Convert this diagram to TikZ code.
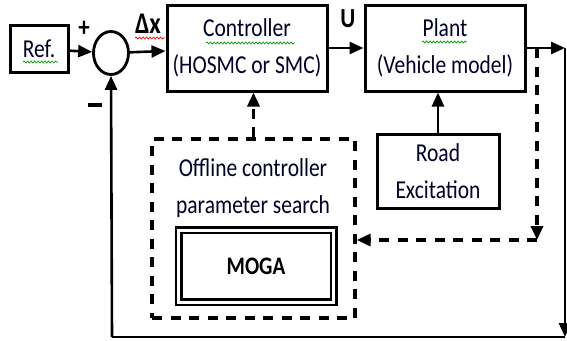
\documentclass[tikz,border=0pt]{standalone}
\usepackage{fontspec}
\setmainfont{Carlito}
\usetikzlibrary{arrows.meta,decorations.pathmorphing,shapes.geometric}
% text in this figure is set slightly taller than the font's natural shape
\newcommand\stretchtxt[1]{\scalebox{1}[1.2]{#1}}

\begin{document}
\begin{tikzpicture}[x=1pt,y=-1pt,
  txt/.style={font=\fontsize{21.5}{37}\selectfont, text=black!85!blue},
  blk/.style={draw, line width=3pt, align=center, inner sep=0pt, txt},
  tip/.style={-{Triangle[length=14pt,width=12pt]}},
  sig/.style={line width=2.6pt, tip},
  dashes/.style={line width=3.3pt, dash pattern=on 10pt off 8.5pt},
  dsig/.style={sig, dashes},
  lbl/.style={font=\fontsize{23}{24}\selectfont\bfseries},
  squig/.style={line width=0.7pt, decorate,
    decoration={snake, segment length=3.5pt, amplitude=1pt}}
]
\useasboundingbox (0,0) rectangle (567,340);

% blocks
\node[blk, minimum width=58pt, minimum height=47pt] (ref) at (39,49) {\stretchtxt{Ref.}};
\node[draw, line width=2.8pt, ellipse, minimum width=35pt, minimum height=43pt,
  inner sep=0pt] (sum) at (111,53) {};
\node[blk, minimum width=160pt, minimum height=86pt] (ctrl) at (247,48)
  {\stretchtxt{Controller}\\\stretchtxt{(HOSMC or SMC)}};
\node[blk, minimum width=160pt, minimum height=86pt] (plant) at (445,48)
  {\stretchtxt{Plant}\\\stretchtxt{(Vehicle model)}};
\node[blk, minimum width=122pt, minimum height=74pt] (road) at (438,171)
  {\stretchtxt{Road}\\\stretchtxt{Excitation}};

% offline search box with the double-framed optimiser
\node[draw, dashes, minimum width=203pt, minimum height=179pt] (off) at (253.5,228.5) {};
\node[txt, align=center] (offtxt) at (253,188)
  {\stretchtxt{Offline controller}\\\stretchtxt{parameter search}};
\node[draw, double, line width=2.5pt, double distance=3pt,
  minimum width=155pt, minimum height=72pt,
  font=\fontsize{21}{24}\selectfont\bfseries] (moga) at (256,266) {\stretchtxt{MOGA}};

% signal labels
\node[lbl] (plus) at (84,29) {\stretchtxt{+}};
\node[inner sep=0pt] (minus) at (95,105) {\rule{14pt}{3.5pt}};
\node[lbl, font=\fontsize{25}{26}\selectfont\bfseries] (dx) at (148,24) {\stretchtxt{Δx}};
\node[lbl] (u) at (348,19) {\stretchtxt{U}};

% helper points for the loops
\coordinate (out) at (565,48);
\coordinate (br) at (565,337);
\coordinate (bl) at (112,337);
\coordinate (tap) at (537,48);
\coordinate (tapd) at (537,240);

% forward path
\draw[sig] (ref) -- (sum);
\draw[sig] (sum) -- (ctrl);
\draw[sig] (ctrl) -- (plant);
\draw[sig] (plant) -- (out);
\draw[sig] (road.north) -- (road.north |- plant.south);

% feedback loop
\draw[sig] (out) -- (br);
\draw[line width=2.6pt] (br) -- (bl);
\draw[sig] (bl) -- (sum.south);

% offline tuning path
\draw[dsig] (tap) -- (tapd);
\draw[dsig] (tapd) -- (off.east |- tapd);
\draw[dsig] (off.north) -- (off.north |- ctrl.south);

% wavy underlines
\draw[squig, green!60!black] (23,62) -- (58,62);
\draw[squig, red] (135,38) -- (165,38);
\draw[squig, green!60!black] (206,43) -- (295,43);
\draw[squig, green!60!black] (422,42) -- (467,42);
\end{tikzpicture}
\end{document}
